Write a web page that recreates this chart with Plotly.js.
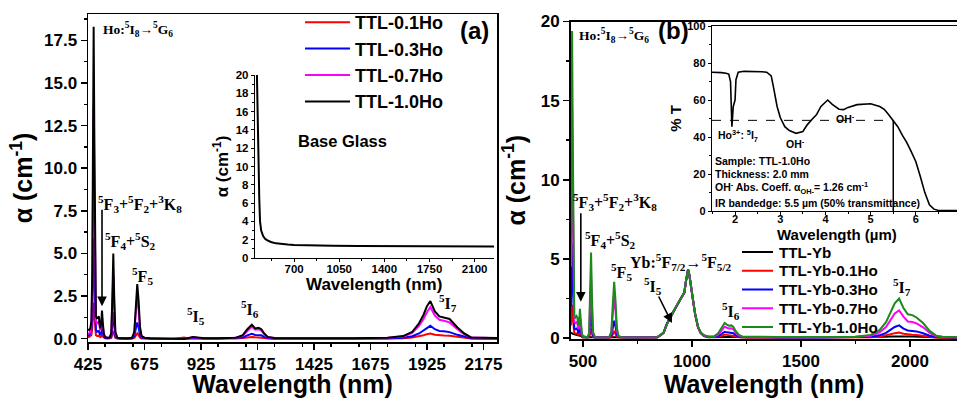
<!DOCTYPE html>
<html><head><meta charset="utf-8">
<script src="https://cdn.plot.ly/plotly-3.0.1.min.js"></script>
<style>html,body{margin:0;padding:0;background:#fff}#chart{width:957px;height:398px}</style>
</head><body><div id="chart"></div>
<script>
// ---------- Panel (a): Ho-doped glasses ----------
const wlA = [425,430,435,440,444,447,450,453,456,460,
  465,470,473,476,480,484,487,490,495,500,
  510,520,528,533,537,541,546,555,570,600,
  620,630,637,643,649,655,662,675,700,750,
  800,850,870,890,910,940,1000,1080,1110,1130,
  1150,1165,1180,1192,1205,1220,1250,1400,1600,1750,
  1820,1860,1890,1910,1925,1940,1960,1980,2000,2025,
  2060,2090,2120,2150,2200,2235];
const a_01Ho = [0.1,0.1,0.15,0.2,0.6,1.5,2.1,1.5,0.5,0.2,
  0.15,0.17,0.17,0.12,0.08,0.13,0.22,0.13,0.04,0.02,
  0.0,0.0,0.04,0.25,0.45,0.25,0.04,0.0,-0.02,-0.02,
  0.0,0.04,0.18,0.3,0.2,0.06,0.01,0.0,-0.02,-0.03,
  -0.03,0.06,0.0,0.02,0.01,0.0,-0.01,0.0,0.03,0.07,
  0.1,0.08,0.08,0.07,0.04,0.01,-0.01,-0.01,-0.01,0.0,
  0.02,0.06,0.13,0.2,0.26,0.3,0.23,0.19,0.18,0.16,
  0.09,0.04,0.01,0.0,-0.01,-0.01];
const a_03Ho = [0.2,0.2,0.3,0.5,1.5,4,5.9,4,1.3,0.5,
  0.4,0.45,0.45,0.3,0.2,0.35,0.6,0.35,0.1,0.04,
  0.02,0.02,0.1,0.8,1.55,0.8,0.12,0.02,0.0,0.0,
  0.02,0.12,0.6,0.95,0.65,0.2,0.05,0.02,0.0,-0.02,
  -0.03,-0.03,0.0,0.04,0.02,0.0,0.0,0.02,0.07,0.19,
  0.28,0.21,0.22,0.19,0.1,0.03,0.0,0.0,0.0,0.01,
  0.05,0.14,0.3,0.47,0.63,0.75,0.55,0.45,0.43,0.38,
  0.22,0.1,0.02,0.01,0.0,0.0];
const a_07Ho = [0.3,0.3,0.4,0.8,3,9,13.6,9,3,1.0,
  0.9,1.0,1.0,0.7,0.5,0.8,1.3,0.8,0.25,0.08,
  0.04,0.04,0.25,1.9,3.8,1.9,0.3,0.04,0.02,0.02,
  0.04,0.3,1.6,2.5,1.7,0.55,0.12,0.04,0.02,0.0,
  -0.02,-0.02,0.02,0.08,0.05,0.02,0.02,0.04,0.17,0.46,
  0.7,0.52,0.55,0.47,0.25,0.08,0.03,0.02,0.02,0.04,
  0.12,0.33,0.75,1.15,1.55,1.85,1.35,1.1,1.05,0.95,
  0.55,0.25,0.06,0.04,0.03,0.03];
const a_10Ho = [0.55,0.5,0.6,1.0,4,12,18.3,12,4,1.3,
  1.2,1.3,1.3,0.9,0.6,1.0,1.65,1.0,0.3,0.1,
  0.05,0.05,0.3,2.5,5.0,2.5,0.4,0.05,0.02,0.02,
  0.05,0.4,2.0,3.2,2.2,0.7,0.15,0.05,0.02,0.0,
  -0.02,-0.02,0.03,0.1,0.07,0.02,0.02,0.05,0.2,0.55,
  0.82,0.6,0.64,0.55,0.3,0.1,0.03,0.02,0.02,0.05,
  0.15,0.4,0.9,1.4,1.9,2.2,1.6,1.3,1.25,1.15,
  0.65,0.3,0.07,0.05,0.03,0.03];
const namesA = ['TTL-0.1Ho','TTL-0.3Ho','TTL-0.7Ho','TTL-1.0Ho'];
const colorsA = ['#ff0000','#0000ff','#ff00ff','#000000'];

// inset (a): base glass
const wlBase = [412,415,420,425,430,436,445,460,475,490,520,560,600,650,700,800,900,1000,1200,1400,1600,1800,2000,2200,2250];
const alphaBase = [20,17,13,9.5,6.5,4.0,3.0,2.4,2.1,1.95,1.75,1.6,1.52,1.47,1.43,1.38,1.35,1.33,1.3,1.28,1.27,1.26,1.25,1.25,1.25];

// ---------- Panel (b): Yb/Ho co-doped glasses ----------
const wlB = [445,448,450,453,456,460,465,470,474,478,
  482,486,490,495,500,510,520,528,533,537,
  541,546,555,570,600,620,630,637,643,649,
  655,662,675,700,750,800,840,855,870,885,
  900,915,930,945,955,965,972,978,982,988,
  995,1005,1015,1028,1040,1055,1075,1100,1120,1135,
  1150,1160,1170,1180,1190,1200,1215,1230,1260,1400,
  1600,1750,1820,1860,1890,1910,1930,1950,1970,1990,
  2010,2030,2060,2090,2120,2150,2215];
const b_Yb = [0.35,0.3,0.28,0.27,0.26,0.25,0.24,0.22,0.2,0.18,
  0.16,0.15,0.13,0.11,0.09,0.07,0.05,0.05,0.05,0.05,
  0.04,0.04,0.04,0.03,0.03,0.03,0.03,0.03,0.03,0.03,
  0.03,0.03,0.03,0.03,0.03,0.03,0.05,0.17,0.33,0.88,
  1.24,1.69,2.04,2.42,2.66,2.86,3.56,4.16,4.31,3.96,
  3.16,2.36,1.46,0.66,0.31,0.13,0.05,0.04,0.04,0.05,
  0.06,0.06,0.06,0.06,0.05,0.05,0.04,0.04,0.04,0.04,
  0.04,0.04,0.05,0.06,0.08,0.1,0.11,0.12,0.11,0.1,
  0.1,0.09,0.07,0.05,0.04,0.04,0.04];
const b_01Ho = [0.8,1.5,2.1,1.4,0.5,0.3,0.28,0.3,0.28,0.2,
  0.22,0.4,0.22,0.07,0.04,0.03,0.03,0.05,0.3,0.6,
  0.3,0.06,0.03,0.02,0.02,0.02,0.06,0.25,0.4,0.27,
  0.08,0.03,0.02,0.02,0.02,0.02,0.04,0.17,0.34,0.9,
  1.25,1.7,2.05,2.43,2.67,2.87,3.57,4.17,4.32,3.97,
  3.17,2.37,1.47,0.67,0.32,0.14,0.06,0.05,0.08,0.15,
  0.22,0.2,0.18,0.19,0.17,0.11,0.05,0.03,0.02,0.02,
  0.02,0.03,0.05,0.09,0.16,0.24,0.31,0.35,0.27,0.22,
  0.21,0.19,0.14,0.07,0.03,0.02,0.02];
const b_03Ho = [2.0,4.3,6.0,4.0,1.3,0.6,0.55,0.6,0.55,0.35,
  0.4,0.8,0.45,0.12,0.05,0.04,0.04,0.1,0.85,1.7,
  0.85,0.13,0.04,0.03,0.03,0.03,0.13,0.7,1.1,0.75,
  0.22,0.06,0.04,0.03,0.03,0.03,0.05,0.18,0.36,0.92,
  1.28,1.72,2.06,2.44,2.68,2.88,3.58,4.18,4.33,3.98,
  3.18,2.38,1.48,0.68,0.33,0.15,0.07,0.06,0.12,0.27,
  0.4,0.36,0.33,0.34,0.3,0.19,0.09,0.05,0.04,0.04,
  0.04,0.05,0.08,0.17,0.33,0.52,0.7,0.8,0.6,0.48,
  0.46,0.42,0.3,0.15,0.06,0.04,0.04];
const b_07Ho = [4.5,10,14.5,9.5,3,1.0,0.95,1.0,0.95,0.6,
  0.65,1.35,0.8,0.22,0.08,0.05,0.05,0.22,1.95,3.9,
  1.95,0.3,0.05,0.03,0.03,0.04,0.3,1.6,2.55,1.75,
  0.5,0.12,0.05,0.03,0.03,0.03,0.05,0.18,0.33,0.87,
  1.22,1.68,2.03,2.43,2.68,2.88,3.58,4.18,4.33,3.98,
  3.18,2.38,1.48,0.68,0.33,0.16,0.09,0.09,0.22,0.5,
  0.72,0.65,0.6,0.62,0.54,0.35,0.16,0.08,0.07,0.06,
  0.06,0.08,0.15,0.36,0.7,1.12,1.55,1.75,1.35,1.05,
  1.02,0.92,0.68,0.32,0.11,0.06,0.06];
const b_10Ho = [6,14,19.4,13,4,1.4,1.3,1.4,1.3,0.8,
  0.9,1.85,1.1,0.3,0.1,0.05,0.05,0.3,2.7,5.4,
  2.7,0.4,0.05,0.03,0.03,0.05,0.4,2.2,3.55,2.4,
  0.7,0.15,0.05,0.03,0.03,0.03,0.05,0.2,0.35,0.9,
  1.25,1.7,2.05,2.45,2.7,2.9,3.6,4.2,4.35,4.0,
  3.2,2.4,1.5,0.7,0.35,0.18,0.1,0.1,0.3,0.65,
  0.95,0.85,0.78,0.8,0.7,0.45,0.2,0.1,0.08,0.07,
  0.07,0.09,0.2,0.5,1.0,1.6,2.2,2.5,1.9,1.5,
  1.45,1.3,0.95,0.45,0.15,0.08,0.07];
const namesB = ['TTL-Yb','TTL-Yb-0.1Ho','TTL-Yb-0.3Ho','TTL-Yb-0.7Ho','TTL-Yb-1.0Ho'];
const colorsB = ['#000000','#ff0000','#0000ff','#ff00ff','#1a8a1a'];

// inset (b): IR transmittance of TTL-1.0Ho
const umIR = [1.49,1.6,1.7,1.8,1.86,1.9,1.93,1.96,2.0,2.02,2.07,2.2,2.4,2.6,2.7,2.8,2.85,2.93,3.0,3.1,
  3.2,3.35,3.5,3.6,3.7,3.8,3.9,4.0,4.05,4.15,4.3,4.4,4.5,4.7,5.0,5.2,5.3,5.4,5.5,5.6,
  5.7,5.8,5.9,6.0,6.1,6.2,6.3,6.4,6.5,6.7,6.91];
const transIR = [75,75,74.8,74.5,74,70,45.6,56.5,60,71,75,75.5,75.5,75.3,75,73,67,56.5,50.5,45.6,
  43.5,42,43,46.7,49.5,52,56.5,59,60,57.6,55,54.8,56,57.5,58,56.5,55,52,49,45.6,
  41,37,32,26.6,18.5,9.8,3.3,1,0.3,0.2,0.2];
const halfT = [49];        // 50% transmittance level
const bandEdge = [5.5];    // IR band edge (µm)

// ---------- styling ----------
const sans = 'Arial, "Liberation Sans", sans-serif';
const serif = '"Times New Roman", "Liberation Serif", serif';
const W = 957, H = 398;
const px = x => x / W, py = y => 1 - y / H;
const bold = (s, f) => ({family: f || sans, size: s, color: '#000', weight: 700});

const traces = [];
namesA.forEach((n, i) => traces.push({x: wlA, y: [a_01Ho, a_03Ho, a_07Ho, a_10Ho][i], name: n, type: 'scatter', mode: 'lines',
  line: {color: colorsA[i], width: 2}, xaxis: 'x', yaxis: 'y', legend: 'legend'}));
traces.push({x: wlBase, y: alphaBase, type: 'scatter', mode: 'lines', line: {color: '#000', width: 2},
  xaxis: 'x2', yaxis: 'y2', showlegend: false});
namesB.forEach((n, i) => traces.push({x: wlB, y: [b_Yb, b_01Ho, b_03Ho, b_07Ho, b_10Ho][i], name: n, type: 'scatter', mode: 'lines',
  line: {color: colorsB[i], width: 2}, xaxis: 'x3', yaxis: 'y3', showlegend: false}));
traces.push({x: umIR, y: transIR, type: 'scatter', mode: 'lines', line: {color: '#000', width: 1.6},
  xaxis: 'x4', yaxis: 'y4', showlegend: false});

const ax = (o) => Object.assign({showline: true, linecolor: '#000', linewidth: 1.5, showgrid: false, zeroline: false,
  ticks: 'outside', ticklen: 6, tickwidth: 1.5, tickcolor: '#000', automargin: false, tickmode: 'linear'}, o);

const layout = {
  width: W, height: H, margin: {l: 0, r: 0, t: 0, b: 0},
  paper_bgcolor: '#fff', plot_bgcolor: 'rgba(0,0,0,0)',
  xaxis: ax({domain: [px(88), px(497)], range: [425, 2235], anchor: 'y', mirror: true, tick0: 425, dtick: 250,
    minor: {dtick: 125, ticks: 'outside', ticklen: 3, tickcolor: '#000'}, tickfont: bold(17),
    title: {text: 'Wavelength (nm)', font: bold(25), standoff: 6}}),
  yaxis: ax({domain: [py(342), py(14)], range: [-0.2, 19.05], anchor: 'x', mirror: true, tick0: 0, dtick: 2.5, tickformat: '.1f',
    minor: {dtick: 1.25, ticks: 'outside', ticklen: 3, tickcolor: '#000'}, tickfont: bold(17),
    title: {text: 'α (cm<sup>-1</sup>)', font: bold(25), standoff: 4}}),
  xaxis2: ax({domain: [px(255), px(494)], range: [397, 2250], anchor: 'y2', tick0: 700, dtick: 350, ticklen: 3, tickwidth: 1,
    linewidth: 1.2, ticklabelstandoff: -3, minor: {dtick: 175, ticks: 'outside', ticklen: 2, tickcolor: '#000'}, tickfont: bold(11.5)}),
  yaxis2: ax({domain: [py(258), py(75)], range: [0, 20], anchor: 'x2', tick0: 0, dtick: 2, ticklen: 3, tickwidth: 1,
    linewidth: 1.2, minor: {dtick: 1, ticks: 'outside', ticklen: 2, tickcolor: '#000'}, tickfont: bold(11.5),
    title: {text: 'α (cm<sup>-1</sup>)', font: bold(17), standoff: 2}}),
  xaxis3: ax({domain: [px(571), 1], range: [445, 2215.6], anchor: 'y3', mirror: true, linewidth: 2, tick0: 0, dtick: 500,
    minor: {dtick: 250, ticks: 'outside', ticklen: 3, tickcolor: '#000'}, tickfont: bold(17),
    title: {text: 'Wavelength (nm)', font: bold(25), standoff: 6}}),
  yaxis3: ax({domain: [py(339), py(21.5)], range: [-0.06, 20], anchor: 'x3', linewidth: 2, tick0: 0, dtick: 5,
    minor: {dtick: 2.5, ticks: 'outside', ticklen: 3, tickcolor: '#000'}, tickfont: bold(17),
    title: {text: 'α (cm<sup>-1</sup>)', font: bold(25), standoff: 8}}),
  xaxis4: ax({domain: [px(712), 1], range: [1.49, 6.91], anchor: 'y4', mirror: true, linewidth: 1.2, tick0: 0, dtick: 1,
    ticklen: 3, tickwidth: 1, ticklabelstandoff: -5, minor: {dtick: 0.5, ticks: 'outside', ticklen: 2, tickcolor: '#000'}, tickfont: bold(11)}),
  yaxis4: ax({domain: [py(211), py(26)], range: [0, 100], anchor: 'x4', linewidth: 1.2, tick0: 0, dtick: 20,
    ticklen: 3, tickwidth: 1, minor: {dtick: 10, ticks: 'outside', ticklen: 2, tickcolor: '#000'}, tickfont: bold(11),
    title: {text: '% T', font: bold(15), standoff: 2}}),
  legend: {x: px(300), y: py(4), xanchor: 'left', yanchor: 'top', bgcolor: 'rgba(0,0,0,0)', font: bold(18),
    itemwidth: 45, tracegroupgap: 0},
  shapes: [
    {type: 'line', xref: 'x4', yref: 'y4', x0: umIR[0], x1: bandEdge[0], y0: halfT[0], y1: halfT[0],
      line: {color: '#000', width: 1, dash: 'dash'}},
    {type: 'line', xref: 'x4', yref: 'y4', x0: bandEdge[0], x1: bandEdge[0], y0: 0, y1: halfT[0],
      line: {color: '#000', width: 1.5}}
  ],
  annotations: []
};

const ann = (text, x, y, size, f, extra) => layout.annotations.push(Object.assign({text, xref: 'paper', yref: 'paper',
  x: px(x), y: py(y), xanchor: 'center', yanchor: 'middle', showarrow: false, font: bold(size, f)}, extra || {}));

// inset axis titles (placed tight to tick labels as in the original)
ann('Wavelength (nm)', 374, 284, 17);
ann('Wavelength (µm)', 837, 234, 15);

// legend for panel (b), drawn from its names and colours
namesB.forEach((n, i) => {
  const yy = 252 + i * 18.75;
  layout.shapes.push({type: 'line', xref: 'paper', yref: 'paper', x0: px(742), x1: px(773), y0: py(yy), y1: py(yy),
    line: {color: colorsB[i], width: 2}});
  ann(n, 777, yy, 15.2, sans, {xanchor: 'left'});
});

// panel (a) labels
ann('(a)', 474, 31, 24);
ann('Base Glass', 342, 141, 16.5);
ann('Ho:<sup>5</sup>I<sub>8</sub>→<sup>5</sup>G<sub>6</sub>', 101, 29, 13.5, serif, {xanchor: 'left'});
ann('<sup>5</sup>F<sub>3</sub>+<sup>5</sup>F<sub>2</sub>+<sup>3</sup>K<sub>8</sub>', 140, 204, 16, serif);
ann('<sup>5</sup>F<sub>4</sub>+<sup>5</sup>S<sub>2</sub>', 130, 241, 16, serif);
ann('<sup>5</sup>F<sub>5</sub>', 142, 276, 16, serif);
ann('<sup>5</sup>I<sub>5</sub>', 196, 316, 16, serif);
ann('<sup>5</sup>I<sub>6</sub>', 250, 309, 16, serif);
ann('<sup>5</sup>I<sub>7</sub>', 448, 303, 16, serif);
layout.annotations.push({xref: 'x', yref: 'y', x: 487, y: 1.9, ax: 0, ay: -98, axref: 'pixel', ayref: 'pixel',
  text: '', showarrow: true, arrowhead: 2, arrowsize: 1.2, arrowwidth: 1.6, arrowcolor: '#000'});

// panel (b) labels
ann('(b)', 673, 31, 24);
ann('Ho:<sup>5</sup>I<sub>8</sub>→<sup>5</sup>G<sub>6</sub>', 577, 35, 13.5, serif, {xanchor: 'left'});
ann('<sup>5</sup>F<sub>3</sub>+<sup>5</sup>F<sub>2</sub>+<sup>3</sup>K<sub>8</sub>', 615, 202, 16, serif);
ann('<sup>5</sup>F<sub>4</sub>+<sup>5</sup>S<sub>2</sub>', 610, 240, 16, serif);
ann('<sup>5</sup>F<sub>5</sub>', 621, 272, 16, serif);
ann('Yb:<sup>5</sup>F<sub>7/2</sub>→<sup>5</sup>F<sub>5/2</sub>', 681, 262, 16, serif);
ann('<sup>5</sup>I<sub>5</sub>', 653, 286, 16, serif);
ann('<sup>5</sup>I<sub>6</sub>', 731, 311, 16, serif);
ann('<sup>5</sup>I<sub>7</sub>', 902, 287, 16, serif);
layout.annotations.push({xref: 'x3', yref: 'y3', x: 490, y: 2.3, ax: 0, ay: -90, axref: 'pixel', ayref: 'pixel',
  text: '', showarrow: true, arrowhead: 2, arrowsize: 1.2, arrowwidth: 1.6, arrowcolor: '#000'});
layout.annotations.push({xref: 'x3', yref: 'y3', x: 908, y: 0.95, ax: -14, ay: -28, axref: 'pixel', ayref: 'pixel',
  text: '', showarrow: true, arrowhead: 2, arrowsize: 1.2, arrowwidth: 1.6, arrowcolor: '#000'});

// inset (b) texts
ann('Ho<sup>3+</sup>: <sup>5</sup>I<sub>7</sub>', 738, 136, 10.5);
ann('OH<sup>-</sup>', 795, 143, 10.5);
ann('OH<sup>-</sup>', 845, 118, 10.5);
ann('Sample: TTL-1.0Ho', 713, 161, 10.5, sans, {xanchor: 'left'});
ann('Thickness: 2.0 mm', 713, 174, 10.5, sans, {xanchor: 'left'});
ann('OH<sup>-</sup> Abs. Coeff. α<sub>OH-</sub>= 1.26 cm<sup>-1</sup>', 713, 188, 10.5, sans, {xanchor: 'left'});
ann('IR bandedge: 5.5 µm (50% transmittance)', 713, 203, 10.5, sans, {xanchor: 'left'});

Plotly.newPlot('chart', traces, layout, {displayModeBar: false, staticPlot: true});
</script></body></html>
